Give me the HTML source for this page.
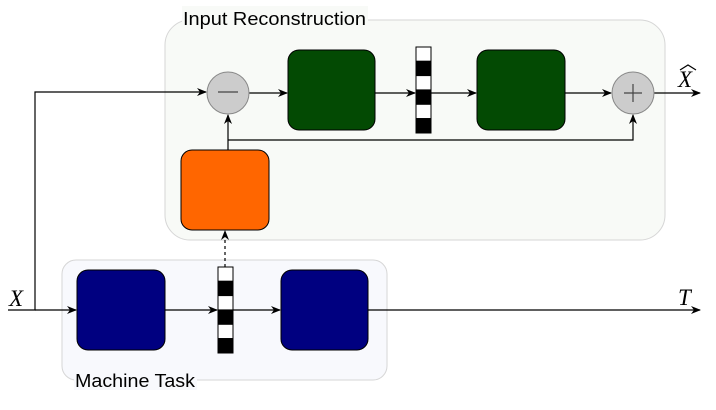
<!DOCTYPE html>
<html><head><style>body{margin:0;background:#fff}svg{display:block}</style></head><body>
<svg width="716" height="410" viewBox="0 0 716 410" xmlns="http://www.w3.org/2000/svg" font-family="Liberation Sans, sans-serif">
<defs><marker id="a" markerWidth="10" markerHeight="8" refX="9" refY="4" orient="auto" markerUnits="userSpaceOnUse"><path d="M0,0 L10,4 L0,8 L3,4 Z" fill="#000"/></marker></defs>
<rect x="165" y="20" width="500" height="220" rx="25" fill="#f8faf7" stroke="#d6d6d6"/>
<rect x="182" y="6" width="186" height="20" fill="#f8faf7"/>
<text x="183" y="25" font-size="18" textLength="183" lengthAdjust="spacingAndGlyphs">Input Reconstruction</text>
<rect x="62" y="260" width="325" height="120" rx="14" fill="#f8f9fd" stroke="#d6d6d6"/>
<rect x="74" y="368" width="123" height="22" fill="#f8f9fd"/>
<text x="75" y="387" font-size="18" textLength="120" lengthAdjust="spacingAndGlyphs">Machine Task</text>
<g stroke="#000" stroke-width="1.2" fill="none">
<path d="M8,310 H35 V92 H206" marker-end="url(#a)"/>
<path d="M35,310 H76" marker-end="url(#a)"/>
<path d="M165,310 H217" marker-end="url(#a)"/>
<path d="M233,310 H280" marker-end="url(#a)"/>
<path d="M368,310 H700" marker-end="url(#a)"/>
<path d="M249,93 H287" marker-end="url(#a)"/>
<path d="M375,93 H415" marker-end="url(#a)"/>
<path d="M431,93 H476" marker-end="url(#a)"/>
<path d="M565,93 H611" marker-end="url(#a)"/>
<path d="M654,93 H700" marker-end="url(#a)"/>
<path d="M228,150 V115" marker-end="url(#a)"/>
<path d="M228,140 H633 V115" marker-end="url(#a)"/>
<path d="M225,267 V231" stroke-dasharray="3,3" marker-end="url(#a)"/>
</g>
<circle cx="228" cy="93" r="21" fill="#cccccc" stroke="#888"/>
<line x1="218" y1="92" x2="238" y2="92" stroke="#444" stroke-width="1.2"/>
<circle cx="633" cy="93" r="21" fill="#cccccc" stroke="#888"/>
<path d="M624,93 H642 M633,84 V102" stroke="#444" stroke-width="1.2"/>
<rect x="288" y="50" width="87" height="80" rx="11" fill="#034a03" stroke="#000"/>
<rect x="477" y="50" width="88" height="80" rx="11" fill="#034a03" stroke="#000"/>
<rect x="181" y="150" width="88" height="80" rx="11" fill="#ff6600" stroke="#000"/>
<rect x="77" y="270" width="88" height="80" rx="11" fill="#000080" stroke="#000"/>
<rect x="281" y="270" width="87" height="80" rx="11" fill="#000080" stroke="#000"/>
<g stroke="#000" stroke-width="1">
<rect x="416" y="47" width="15" height="14.3" fill="#fff"/><rect x="416" y="61.3" width="15" height="14.3" fill="#000"/><rect x="416" y="75.6" width="15" height="14.3" fill="#fff"/><rect x="416" y="90" width="15" height="14.3" fill="#000"/><rect x="416" y="104.3" width="15" height="14.3" fill="#fff"/><rect x="416" y="118.6" width="15" height="14.4" fill="#000"/>
<rect x="218" y="267" width="15" height="14.3" fill="#fff"/><rect x="218" y="281.3" width="15" height="14.3" fill="#000"/><rect x="218" y="295.6" width="15" height="14.3" fill="#fff"/><rect x="218" y="310" width="15" height="14.3" fill="#000"/><rect x="218" y="324.3" width="15" height="14.3" fill="#fff"/><rect x="218" y="338.6" width="15" height="14.4" fill="#000"/>
</g>
<text x="9" y="306" font-size="23" font-style="italic" font-family="Liberation Serif, serif">X</text>
<text x="678" y="305" font-size="23" font-style="italic" font-family="Liberation Serif, serif">T</text>
<text x="678" y="87" font-size="23" font-style="italic" font-family="Liberation Serif, serif">X</text>
<path d="M680,70 L688,65 L696,70" stroke="#000" fill="none" stroke-width="1.2"/>
</svg>
</body></html>
